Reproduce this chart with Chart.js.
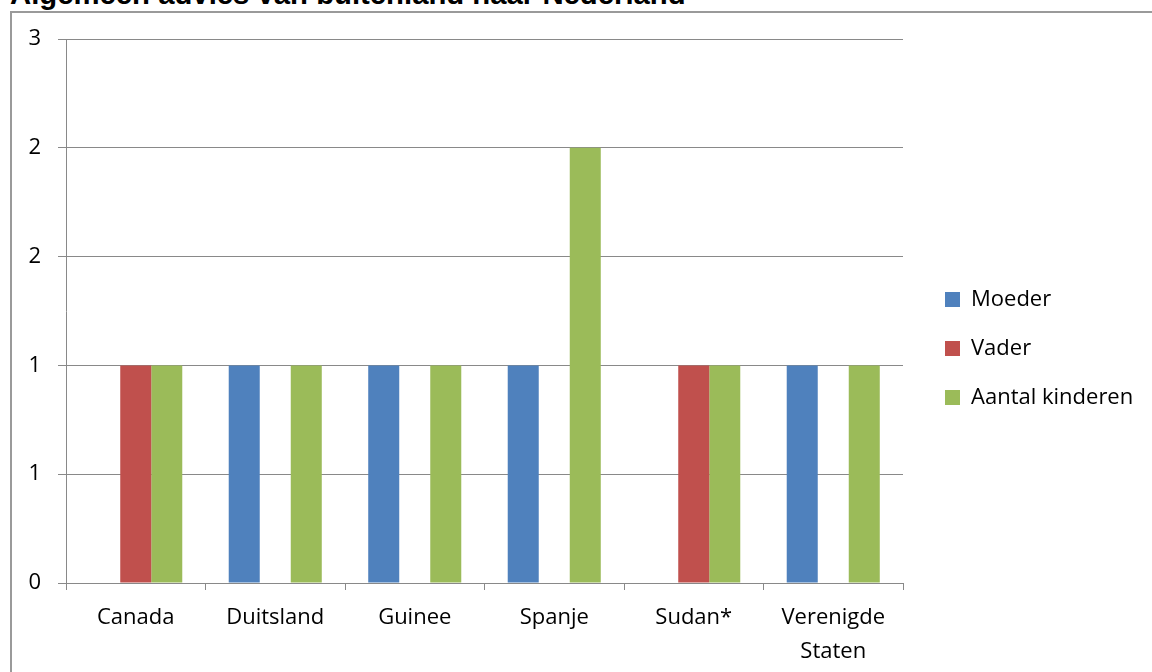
<!DOCTYPE html>
<html>
<head>
<meta charset="utf-8">
<script src="https://cdn.jsdelivr.net/npm/chart.js@4/dist/chart.umd.min.js"></script>
<style>
html, body { margin: 0; padding: 0; background: #fff; overflow: hidden; }
#title { position: absolute; left: 10px; top: -21px; font: bold 29.3px "Liberation Sans", Arial, sans-serif; line-height: 29px; white-space: nowrap; color: #000; }
#frame { position: absolute; left: 10px; top: 11px; width: 2000px; height: 2000px; border-left: 2px solid #9a9a9a; border-top: 2px solid #9a9a9a; }
#chart { position: absolute; left: 0; top: 0; }
</style>
</head>
<body>
<div id="title">Algemeen advies van buitenland naar Nederland</div>
<div id="frame"></div>
<canvas id="chart" width="1152" height="672"></canvas>
<script>
// landen en aantallen (lege cellen = null)
const landen = ["Canada", "Duitsland", "Guinee", "Spanje", "Sudan*", ["Verenigde", "Staten"]];
const moeder = [null, 1, 1, 1, null, 1];
const vader = [1, null, null, null, 1, null];
const kinderen = [1, 1, 1, 2, 1, 1];
const reeksen = ["Moeder", "Vader", "Aantal kinderen"];

const yMax = 2.5;
const yStap = 0.5;

const grijs = "#898989";
const font = { family: "'Open Sans', sans-serif", size: 22 };
const legendaPad = 27;
const vakje = 15;
const legendaGat = 15;   // ruimte tussen plotvlak en legenda
const plotRechts = 903;

// legenda iets naar rechts schuiven, los van het plotvlak
const legendaRuimte = {
  id: "legendaRuimte",
  afterLayout(c) {
    c.legend.left += legendaGat;
    c.legend.right += legendaGat;
  }
};

const ctx = document.getElementById("chart").getContext("2d");

const grafiek = new Chart(ctx, {
  type: "bar",
  data: {
    labels: landen,
    datasets: [
      { label: reeksen[0], data: moeder, backgroundColor: "#4F81BD" },
      { label: reeksen[1], data: vader, backgroundColor: "#C0504D" },
      { label: reeksen[2], data: kinderen, backgroundColor: "#9BBB59" }
    ]
  },
  options: {
    responsive: false,
    devicePixelRatio: 1,
    animation: false,
    layout: { padding: { left: 0, top: 39, right: 30, bottom: 14 } },
    datasets: { bar: { categoryPercentage: 0.667, barPercentage: 1, borderWidth: 0 } },
    plugins: {
      tooltip: { enabled: false },
      legend: {
        position: "right",
        labels: { boxWidth: vakje, boxHeight: vakje, padding: legendaPad, color: "#000", font: font }
      }
    },
    scales: {
      x: {
        grid: { offset: true, drawOnChartArea: false, color: grijs, tickLength: 7 },
        border: { color: grijs },
        ticks: { color: "#000", font: { ...font, lineHeight: 1.55 }, padding: 11, maxRotation: 0, autoSkip: false },
        afterFit: s => { s.height = 75; }
      },
      y: {
        min: 0,
        max: yMax,
        grid: { color: grijs, tickLength: 8 },
        border: { color: grijs },
        ticks: { stepSize: yStap, color: "#000", font: font, padding: 17, callback: v => Math.round(v) },
        afterFit: s => { s.width = 66; }
      }
    }
  },
  plugins: [legendaRuimte]
});

// plotvlak rechts op 903 zetten
grafiek.options.layout.padding.right += grafiek.chartArea.right - plotRechts;
grafiek.update();
</script>
</body>
</html>
